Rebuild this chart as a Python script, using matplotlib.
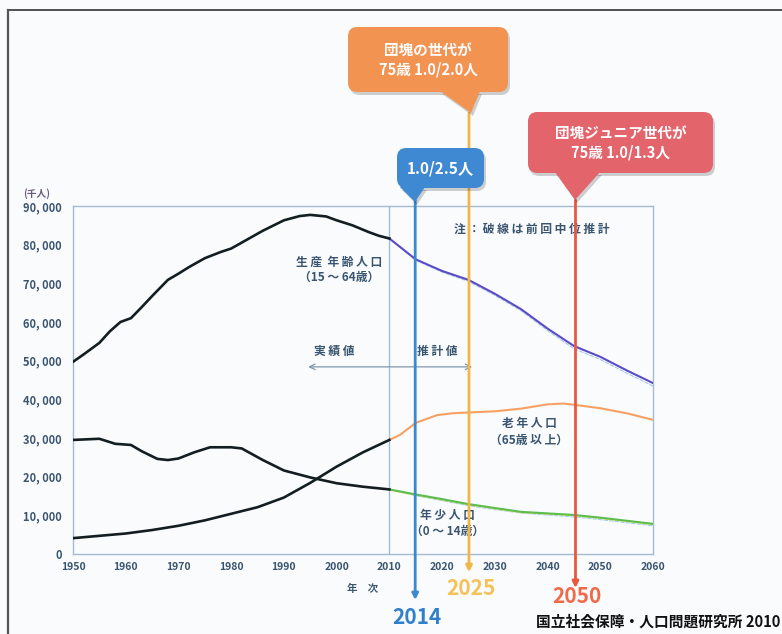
import matplotlib
matplotlib.use('Agg')
import matplotlib.pyplot as plt
from matplotlib.patches import FancyBboxPatch, Polygon

plt.rcParams['font.family'] = ['Noto Sans CJK JP', 'DejaVu Sans']

# population in thousands (千人)
prod_years = [1950, 1952, 1955, 1957, 1959, 1961, 1963, 1965, 1968, 1970, 1972, 1975,
              1978, 1980, 1983, 1986, 1990, 1993, 1995, 1998, 2000, 2003, 2006, 2008, 2010]
prod_vals = [49700, 51600, 54600, 57600, 60000, 61000, 63800, 66700, 70900, 72500, 74200, 76500,
             78100, 79000, 81300, 83600, 86300, 87400, 87700, 87300, 86300, 85000, 83300, 82300, 81600]

youth_years = [1950, 1955, 1958, 1961, 1963, 1966, 1968, 1970, 1973, 1976, 1980, 1982,
               1986, 1990, 1995, 2000, 2005, 2010]
youth_vals = [29500, 29800, 28500, 28200, 26600, 24600, 24300, 24700, 26300, 27600, 27600, 27300,
              24300, 21600, 19800, 18300, 17400, 16700]

old_years = [1950, 1955, 1960, 1965, 1970, 1975, 1980, 1985, 1990, 1995, 2000, 2005, 2010]
old_vals = [4100, 4700, 5300, 6200, 7300, 8700, 10400, 12100, 14600, 18400, 22600, 26300, 29500]

# projections (推計値)
proj_years = [2010, 2015, 2020, 2025, 2030, 2035, 2040, 2045, 2050, 2055, 2060]
prod_proj = [81600, 76200, 73200, 70900, 67300, 63300, 58300, 53800, 51000, 47500, 44200]
prod_prev = [81600, 76000, 72900, 70500, 66900, 62900, 57800, 53100, 50300, 46800, 43400]
youth_proj = [16700, 15400, 14200, 12900, 11900, 10900, 10500, 10100, 9400, 8600, 7800]
youth_prev = [16700, 15100, 13800, 12500, 11500, 10600, 10100, 9600, 8900, 8100, 7300]
old_proj_years = [2010, 2012, 2015, 2019, 2022, 2025, 2030, 2035, 2040, 2043, 2045, 2050, 2055, 2060]
old_proj = [29500, 30800, 33900, 35900, 36400, 36600, 36900, 37600, 38700, 38900, 38600, 37700, 36400, 34700]

yticks = [0, 10000, 20000, 30000, 40000, 50000, 60000, 70000, 80000, 90000]
ytick_labels = ['0', '10, 000', '20, 000', '30, 000', '40, 000', '50, 000',
                '60, 000', '70, 000', '80, 000', '90, 000']
xticks = [1950, 1960, 1970, 1980, 1990, 2000, 2010, 2020, 2030, 2040, 2050, 2060]

# marker lines: label, x position, top/bottom (千人), colour, callout text
marker_labels = ['2014', '2025', '2050']
marker_x = [2014.9, 2025.1, 2045.3]
marker_top = [91500, 114000, 91500]
marker_bottom = [-11900, -4700, -8800]
marker_colors = ['#3d86d0', '#f2b646', '#e8583e']
label_colors = ['#2f7fcc', '#f5c25a', '#f06a4a']
callout_texts = ['1.0/2.5人', '団塊の世代が\n75歳 1.0/2.0人', '団塊ジュニア世代が\n75歳 1.0/1.3人']
callout_colors = ['#3f88d2', '#f39352', '#e4646c']

W, H = 782, 634
BG = '#fafbfd'
FRAME = '#a3bccf'
TXT = '#3a5570'

fig = plt.figure(figsize=(W / 100, H / 100), dpi=100, facecolor=BG)
ax = fig.add_axes([73 / W, 1 - 554 / H, 580 / W, 348 / H])
ax.set_facecolor(BG)

# historical
ax.plot(prod_years, prod_vals, color='#131e22', lw=1.9, zorder=5)
ax.plot(youth_years, youth_vals, color='#131e22', lw=1.9, zorder=5)
ax.plot(old_years, old_vals, color='#131e22', lw=1.9, zorder=5)

# previous medium estimate (破線)
ax.plot(proj_years, prod_prev, color='#a9c8e8', lw=0.8, ls=(0, (4, 1)), zorder=3)
ax.plot(proj_years, youth_prev, color='#9fd0e8', lw=0.8, ls=(0, (4, 1)), zorder=3)
ax.plot(proj_years, [v - 200 for v in youth_proj], color='#e6e070', lw=0.8, zorder=3)

# projections
ax.plot(proj_years, prod_proj, color='#5a4cc4', lw=1.5, zorder=4)
ax.plot(proj_years, youth_proj, color='#5cbd4e', lw=1.5, zorder=4)
ax.plot(old_proj_years, old_proj, color='#f7a064', lw=1.5, zorder=4)

ax.set_xlim(1950, 2060)
ax.set_ylim(0, 90000)
ax.set_yticks(yticks)
ax.set_yticklabels(ytick_labels)
ax.set_xticks(xticks)
ax.tick_params(axis='y', length=0, labelsize=8, labelcolor=TXT, pad=8)
ax.tick_params(axis='x', length=0, labelsize=7.5, labelcolor=TXT, pad=6)
for lab in ax.get_xticklabels() + ax.get_yticklabels():
    lab.set_fontweight('bold')
for s in ax.spines.values():
    s.set_color(FRAME)
    s.set_linewidth(1.0)
ax.axvline(2010, color=FRAME, lw=1.0, zorder=2)

ax.text(-0.062, 1.035, '(千人)', transform=ax.transAxes, fontsize=7, color='#6a5a80',
        ha='center', va='center', fontweight='bold')
ax.set_xlabel('年　次', fontsize=7.5, color=TXT, fontweight='bold', labelpad=8)

# in-plot labels
lab_kw = dict(fontsize=8.5, color=TXT, ha='center', va='center', linespacing=1.3,
              fontweight='bold')
ax.text(2000.5, 73500, '生 産  年 齢 人 口\n（15 ～ 64歳）', **lab_kw)
ax.text(2037, 84000, '注 ： 破 線 は 前 回 中 位 推 計', **lab_kw)
ax.text(1999.5, 52400, '実 績 値', **lab_kw)
ax.text(2019, 52400, '推 計 値', **lab_kw)
ax.annotate('', xy=(1994.6, 48400), xytext=(2025.7, 48400),
            arrowprops=dict(arrowstyle='<->', color='#7d98ae', lw=0.9, shrinkA=0, shrinkB=0))
ax.text(2036.5, 31600, '老 年 人 口\n（65歳 以 上）', **lab_kw)
ax.text(2021, 7900, '年 少 人 口\n（0 ～ 14歳）', **lab_kw)

# marker lines with arrow heads and year labels
label_y = [-16500, -8900, -11000]
for i in range(3):
    x = marker_x[i]
    ax.annotate('', xy=(x, marker_bottom[i]), xytext=(x, marker_top[i]), annotation_clip=False,
                arrowprops=dict(arrowstyle='-|>', color=marker_colors[i], lw=2.0,
                                mutation_scale=9, shrinkA=0, shrinkB=0), zorder=6)
    ax.text(x + 0.3, label_y[i], marker_labels[i], fontsize=15, color=label_colors[i],
            ha='center', va='center', fontweight='bold', clip_on=False)


def callout(x0, y0, x1, y1, tip_x, tip_y, base_l, base_r, color, text, fs):
    # rounded box and pointer, positions in pixels from the top-left corner
    def f(px, py):
        return px / W, 1 - py / H
    bw, bh = (x1 - x0) / W, (y1 - y0) / H
    for dx, dy, c, a in [(2, 3, '#000000', 0.18), (0, 0, color, 1.0)]:
        sx, sy = f(x0 + dx, y1 + dy)
        fig.patches.append(FancyBboxPatch((sx, sy), bw, bh, transform=fig.transFigure,
                                          boxstyle='round,pad=0,rounding_size=0.012',
                                          mutation_aspect=W / H, fc=c, ec='none', alpha=a,
                                          zorder=8))
        tri = [f(base_l + dx, y1 - 1 + dy), f(tip_x + dx, tip_y + dy), f(base_r + dx, y1 - 1 + dy)]
        fig.patches.append(Polygon(tri, closed=True, transform=fig.transFigure, fc=c, ec='none',
                                   alpha=a, zorder=8))
    cx, cy = f((x0 + x1) / 2, (y0 + y1) / 2)
    fig.text(cx, cy, text, color='white', fontsize=fs, ha='center', va='center',
             linespacing=1.3, zorder=9, fontweight='bold')


callout(397, 148, 484, 188, 415, 202, 400, 425, callout_colors[0], callout_texts[0], 11)
callout(348, 27, 508, 92, 471, 113, 440, 480, callout_colors[1], callout_texts[1], 10.5)
callout(528, 112, 713, 173, 575, 200, 555, 600, callout_colors[2], callout_texts[2], 10.5)

# page frame lines
fig.add_artist(plt.Line2D([8 / W, 1], [1 - 10 / H, 1 - 10 / H], color='#333333', lw=1.2,
                          transform=fig.transFigure))
fig.add_artist(plt.Line2D([8 / W, 8 / W], [0, 1 - 10 / H], color='#555555', lw=1.6,
                          transform=fig.transFigure))

fig.text(1.0 - 2 / W, 1 - 621 / H, '国立社会保障・人口問題研究所 2010', fontsize=10.6,
         color='#111111', ha='right', va='center', fontweight='bold')

fig.savefig('out.png', dpi=100, facecolor=BG)
